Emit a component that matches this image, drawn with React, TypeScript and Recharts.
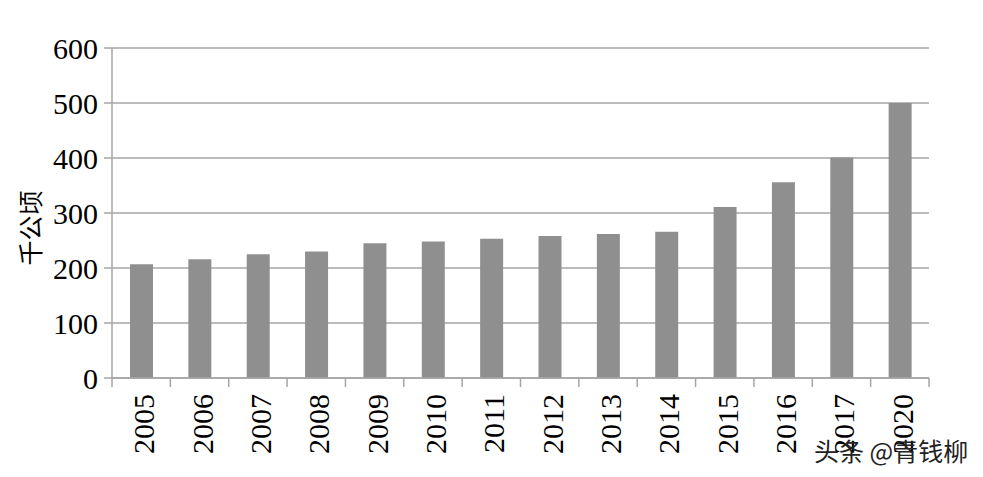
import React from "react";
import { BarChart, Bar, XAxis, YAxis, CartesianGrid } from "recharts";

// years (note the jump 2017 -> 2020 in the source)
const years = ["2005", "2006", "2007", "2008", "2009", "2010", "2011", "2012", "2013", "2014", "2015", "2016", "2017", "2020"];
// area, thousand hectares
const area = [207, 216, 225, 230, 245, 248, 253, 258, 262, 266, 311, 356, 401, 500];
const yTicks = [0, 100, 200, 300, 400, 500, 600];

const data = years.map((year, i) => ({ year, area: area[i] }));

const W = 983;
const H = 477;
const LEFT = 112;
const RIGHT = 54;
const AXIS = "#a6a6a6";
const FONT = "'Liberation Serif', 'Times New Roman', serif";

const step = (W - LEFT - RIGHT) / years.length;

// Excel-style: tick marks sit between categories, labels rotated
const YearTick = (props: any) => {
  const { x, y, payload, index } = props;
  return (
    <g>
      <line x1={x - step / 2} y1={y - 8} x2={x - step / 2} y2={y + 1} stroke={AXIS} strokeWidth={1.5} />
      {index === years.length - 1 && (
        <line x1={x + step / 2} y1={y - 8} x2={x + step / 2} y2={y + 1} stroke={AXIS} strokeWidth={1.5} />
      )}
      <text
        x={0}
        y={0}
        transform={`translate(${x + 13},${y + 8}) rotate(-90)`}
        textAnchor="end"
        fontFamily={FONT}
        fontSize={30}
        fill="#000"
      >
        {payload.value}
      </text>
    </g>
  );
};

export default function App() {
  return (
    <div style={{ position: "absolute", left: 0, top: 0, width: W, height: H, background: "#fff" }}>
      <BarChart width={W} height={H} data={data} margin={{ top: 48, right: RIGHT, left: 0, bottom: 0 }}>
        <CartesianGrid vertical={false} stroke={AXIS} strokeWidth={1.5} />
        <XAxis
          dataKey="year"
          height={99}
          interval={0}
          tickLine={false}
          axisLine={{ stroke: AXIS, strokeWidth: 1.5 }}
          tick={<YearTick />}
        />
        <YAxis
          width={LEFT}
          domain={[0, 600]}
          ticks={yTicks}
          tickSize={8}
          tickMargin={6}
          axisLine={{ stroke: AXIS, strokeWidth: 1.5 }}
          tickLine={{ stroke: AXIS, strokeWidth: 1.5 }}
          tick={{ fontFamily: FONT, fontSize: 30, fill: "#000" }}
          label={{
            content: () => (
              <text
                x={0}
                y={0}
                transform="translate(40,228) rotate(-90)"
                textAnchor="middle"
                fontFamily="'Noto Sans CJK SC', sans-serif"
                fontSize={25}
                fill="#000"
              >
                千公顷
              </text>
            ),
          }}
        />
        <Bar dataKey="area" fill="#8f8f8f" barSize={23} isAnimationActive={false} />
      </BarChart>
      <div
        style={{
          position: "absolute",
          left: 814,
          top: 438,
          lineHeight: 1,
          fontFamily: "'Noto Sans CJK SC', sans-serif",
          fontSize: 25,
          color: "#222",
          whiteSpace: "nowrap",
        }}
      >
        头条 @青钱柳
      </div>
    </div>
  );
}
